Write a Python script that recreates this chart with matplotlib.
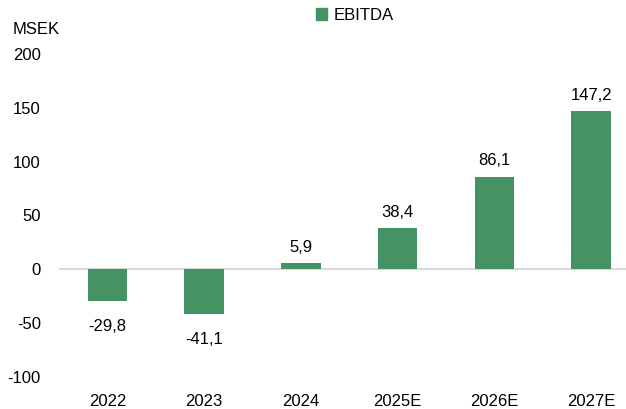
import matplotlib
matplotlib.use('Agg')
import matplotlib.pyplot as plt
from matplotlib.patches import Patch

years = ['2022', '2023', '2024', '2025E', '2026E', '2027E']
ebitda = [-29.8, -41.1, 5.9, 38.4, 86.1, 147.2]
yticks = [-100, -50, 0, 50, 100, 150, 200]

bar_color = '#459365'
plt.rcParams['font.family'] = ['Liberation Sans', 'DejaVu Sans']
plt.rcParams['axes.unicode_minus'] = False

fig = plt.figure(figsize=(6.26, 4.09), dpi=100)
ax = fig.add_axes([59 / 626, 32 / 409, 567 / 626, 323 / 409])

x = list(range(len(years)))
ax.bar(x, ebitda, width=0.41, color=bar_color, zorder=3)
ax.axhline(0, color='#d9d9d9', linewidth=1.5, zorder=2)

for xi, v in zip(x, ebitda):
    txt = '{:.1f}'.format(v).replace('.', ',')
    off = 6 if v >= 0 else -13
    ax.annotate(txt, (xi, v), xytext=(0, off), textcoords='offset points',
                ha='center', va='bottom' if v >= 0 else 'top', fontsize=12)

ax.set_xlim(-0.5, 5.36)
ax.set_ylim(-100, 200)
ax.set_yticks(yticks)
ax.set_xticks(x)
ax.set_xticklabels(years)
ax.tick_params(axis='both', length=0, labelsize=12)
ax.tick_params(axis='x', pad=12)
ax.tick_params(axis='y', pad=13)
for s in ax.spines.values():
    s.set_visible(False)

fig.text(13 / 626, 1 - 30 / 409, 'MSEK', fontsize=12, va='center', ha='left')
fig.legend(handles=[Patch(color=bar_color, label='EBITDA')], loc='center',
           bbox_to_anchor=(0.567, 1 - 15 / 409), frameon=False, fontsize=12,
           handlelength=0.7, handleheight=0.7, handletextpad=0.4)

fig.savefig('out.png', dpi=100)
